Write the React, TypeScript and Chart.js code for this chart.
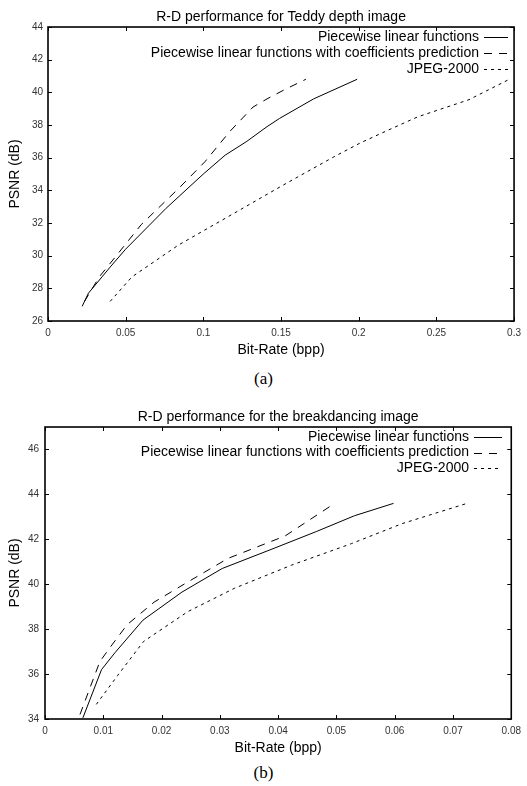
import React, { useEffect, useRef } from "react";
import { Chart, registerables } from "chart.js";

Chart.register(...registerables);

// ---------- Series labels ----------
const seriesLabels = [
  "Piecewise linear functions",
  "Piecewise linear functions with coefficients prediction",
  "JPEG-2000",
];

// ---------- (a) Teddy depth image ----------
const teddyTitle = "R-D performance for Teddy depth image";
const teddyXTicks = [0, 0.05, 0.1, 0.15, 0.2, 0.25, 0.3];
const teddyYTicks = [26, 28, 30, 32, 34, 36, 38, 40, 42, 44];
const teddyPwlRate = [0.022, 0.026, 0.040, 0.050, 0.076, 0.100, 0.114, 0.128, 0.141, 0.149, 0.171, 0.199];
const teddyPwlPsnr = [26.9, 27.7, 29.3, 30.4, 32.9, 35.0, 36.15, 37.0, 37.9, 38.4, 39.6, 40.8];
const teddyPredRate = [0.0235, 0.026, 0.033, 0.044, 0.060, 0.085, 0.101, 0.117, 0.123, 0.132, 0.141, 0.153, 0.166];
const teddyPredPsnr = [27.2, 27.6, 28.7, 30.0, 31.9, 34.2, 35.75, 37.6, 38.2, 39.1, 39.6, 40.2, 40.8];
const teddyJpegRate = [0.040, 0.054, 0.084, 0.118, 0.151, 0.184, 0.201, 0.217, 0.238, 0.271, 0.297];
const teddyJpegPsnr = [27.2, 28.7, 30.65, 32.5, 34.3, 36.05, 36.9, 37.6, 38.5, 39.55, 40.8];

// ---------- (b) Breakdancing image ----------
const breakTitle = "R-D performance for the breakdancing image";
const breakXTicks = [0, 0.01, 0.02, 0.03, 0.04, 0.05, 0.06, 0.07, 0.08];
const breakYTicks = [34, 36, 38, 40, 42, 44, 46];
const breakPwlRate = [0.0065, 0.0097, 0.0120, 0.0168, 0.0235, 0.0304, 0.0393, 0.0466, 0.0531, 0.0598];
const breakPwlPsnr = [34.05, 36.2, 36.95, 38.4, 39.65, 40.7, 41.6, 42.35, 43.05, 43.6];
const breakPredRate = [0.0060, 0.0094, 0.0112, 0.0141, 0.0187, 0.0245, 0.0314, 0.0412, 0.0497];
const breakPredPsnr = [34.2, 36.55, 37.2, 38.2, 39.2, 40.1, 41.15, 42.15, 43.6];
const breakJpegRate = [0.0088, 0.0125, 0.0169, 0.0245, 0.0325, 0.0423, 0.0526, 0.0613, 0.0724];
const breakJpegPsnr = [34.65, 35.95, 37.45, 38.78, 39.82, 40.85, 41.81, 42.7, 43.6];

const xAxisTitle = "Bit-Rate (bpp)";
const yAxisTitle = "PSNR (dB)";

const dashes: number[][] = [[], [8, 7], [3, 4]];
const SANS = "'Liberation Sans', Arial, Helvetica, sans-serif";

const fmt = (v: number) => String(parseFloat(Number(v).toFixed(4)));

const gnuplotPlugin = {
  id: "gnuFrame",
  afterDatasetsDraw(chart: any, _args: any, opts: any) {
    const { ctx, chartArea: a, scales } = chart;
    ctx.save();
    // inward ticks on all four sides
    ctx.strokeStyle = "#000";
    ctx.lineWidth = 1;
    const L = 4;
    ctx.beginPath();
    scales.x.ticks.forEach((t: any) => {
      const px = Math.round(scales.x.getPixelForValue(t.value)) + 0.5;
      ctx.moveTo(px, a.bottom);
      ctx.lineTo(px, a.bottom - L);
      ctx.moveTo(px, a.top);
      ctx.lineTo(px, a.top + L);
    });
    scales.y.ticks.forEach((t: any) => {
      const py = Math.round(scales.y.getPixelForValue(t.value)) + 0.5;
      ctx.moveTo(a.left, py);
      ctx.lineTo(a.left + L, py);
      ctx.moveTo(a.right, py);
      ctx.lineTo(a.right - L, py);
    });
    ctx.stroke();
    // frame
    ctx.lineWidth = 1.6;
    ctx.strokeRect(a.left, a.top, a.right - a.left, a.bottom - a.top);

    // title
    ctx.fillStyle = "#000";
    ctx.font = `14px ${SANS}`;
    ctx.textAlign = "center";
    ctx.textBaseline = "middle";
    ctx.fillText(opts.title, (a.left + a.right) / 2, opts.titleY);

    // legend (gnuplot style: text right-aligned, sample to the right)
    ctx.textAlign = "right";
    chart.data.datasets.forEach((ds: any, i: number) => {
      const y = opts.rows[i];
      ctx.fillStyle = "#000";
      ctx.fillText(ds.label, opts.textRight, y);
      ctx.beginPath();
      ctx.setLineDash(ds.borderDash || []);
      ctx.lineWidth = 1;
      ctx.strokeStyle = "#000";
      ctx.moveTo(opts.sampleStart, Math.round(y) + 0.5);
      ctx.lineTo(opts.sampleEnd, Math.round(y) + 0.5);
      ctx.stroke();
    });
    ctx.setLineDash([]);
    ctx.restore();
  },
};

type Panel = {
  title: string;
  rates: number[][];
  psnrs: number[][];
  xTicks: number[];
  yTicks: number[];
  xMax: number;
  yMin: number;
  yMax: number;
  width: number;
  height: number;
  area: { left: number; top: number; right: number; bottom: number };
  titleY: number;
  legend: { textRight: number; sampleStart: number; sampleEnd: number; rows: number[] };
  yTickPad: number;
  xTickPad: number;
  xTitlePad: number;
  yTitlePad: number;
};

function RDChart({ p }: { p: Panel }) {
  const ref = useRef<HTMLCanvasElement | null>(null);
  useEffect(() => {
    if (!ref.current) return;
    const datasets = seriesLabels.map((label, i) => ({
      label,
      data: p.rates[i].map((x, j) => ({ x, y: p.psnrs[i][j] })),
      borderColor: "#000",
      backgroundColor: "#000",
      borderWidth: 1,
      borderDash: dashes[i],
      pointRadius: 0,
      tension: 0,
      fill: false,
    }));
    const chart = new Chart(ref.current, {
      type: "line",
      data: { datasets },
      plugins: [gnuplotPlugin],
      options: {
        animation: false,
        responsive: false,
        maintainAspectRatio: false,
        parsing: true,
        layout: {
          padding: { left: 0, top: p.area.top, right: p.width - p.area.right, bottom: 0 },
        },
        plugins: {
          legend: { display: false },
          title: { display: false },
          tooltip: { enabled: false },
          gnuFrame: { title: p.title, titleY: p.titleY, ...p.legend },
        } as any,
        scales: {
          x: {
            type: "linear",
            min: 0,
            max: p.xMax,
            grid: { display: false, drawTicks: false },
            border: { display: false },
            afterBuildTicks: (s: any) => {
              s.ticks = p.xTicks.map((v) => ({ value: v }));
            },
            afterFit: (s: any) => {
              s.height = p.height - p.area.bottom;
            },
            ticks: {
              autoSkip: false,
              maxRotation: 0,
              padding: p.xTickPad,
              color: "#333",
              font: { family: SANS, size: 10 },
              callback: (v: any) => fmt(v),
            },
            title: {
              display: true,
              text: xAxisTitle,
              color: "#000",
              font: { family: SANS, size: 14 },
              padding: { top: 0, bottom: p.xTitlePad },
            },
          },
          y: {
            type: "linear",
            min: p.yMin,
            max: p.yMax,
            grid: { display: false, drawTicks: false },
            border: { display: false },
            afterBuildTicks: (s: any) => {
              s.ticks = p.yTicks.map((v) => ({ value: v }));
            },
            afterFit: (s: any) => {
              s.width = p.area.left;
            },
            ticks: {
              autoSkip: false,
              padding: p.yTickPad,
              color: "#333",
              font: { family: SANS, size: 10 },
              callback: (v: any) => fmt(v),
            },
            title: {
              display: true,
              text: yAxisTitle,
              color: "#000",
              font: { family: SANS, size: 14 },
              padding: { top: p.yTitlePad, bottom: 0 },
            },
          },
        },
      } as any,
    });
    return () => chart.destroy();
  }, [p]);
  return (
    <canvas
      ref={ref}
      width={p.width}
      height={p.height}
      style={{ display: "block", width: p.width, height: p.height }}
    />
  );
}

const panelA: Panel = {
  title: teddyTitle,
  rates: [teddyPwlRate, teddyPredRate, teddyJpegRate],
  psnrs: [teddyPwlPsnr, teddyPredPsnr, teddyJpegPsnr],
  xTicks: teddyXTicks,
  yTicks: teddyYTicks,
  xMax: 0.3,
  yMin: 26,
  yMax: 44,
  width: 527,
  height: 362,
  area: { left: 48, top: 27, right: 518, bottom: 321 },
  titleY: 17.5,
  legend: { textRight: 479, sampleStart: 484, sampleEnd: 508, rows: [37, 53, 69] },
  yTickPad: 5,
  xTickPad: 6,
  xTitlePad: 3.6,
  yTitlePad: 7.1,
};

const panelB: Panel = {
  title: breakTitle,
  rates: [breakPwlRate, breakPredRate, breakJpegRate],
  psnrs: [breakPwlPsnr, breakPredPsnr, breakJpegPsnr],
  xTicks: breakXTicks,
  yTicks: breakYTicks,
  xMax: 0.08,
  yMin: 34,
  yMax: 47,
  width: 527,
  height: 365,
  area: { left: 45, top: 32, right: 513, bottom: 324 },
  titleY: 22,
  legend: { textRight: 469, sampleStart: 474, sampleEnd: 502, rows: [42, 57.5, 73] },
  yTickPad: 6,
  xTickPad: 6,
  xTitlePad: 3.6,
  yTitlePad: 7.1,
};

const capStyle: React.CSSProperties = {
  position: "absolute",
  left: 0,
  width: 527,
  height: 20,
  lineHeight: "20px",
  textAlign: "center",
  fontFamily: "'Liberation Serif', 'Times New Roman', serif",
  fontSize: 17,
  color: "#000",
};

export default function App() {
  return (
    <div
      style={{
        position: "absolute",
        left: 0,
        top: 0,
        width: 527,
        height: 786,
        background: "#fff",
        overflow: "hidden",
      }}
    >
      <div style={{ position: "absolute", left: 0, top: 0 }}>
        <RDChart p={panelA} />
      </div>
      <div style={{ ...capStyle, top: 369 }}>(a)</div>
      <div style={{ position: "absolute", left: 0, top: 395 }}>
        <RDChart p={panelB} />
      </div>
      <div style={{ ...capStyle, top: 763 }}>(b)</div>
    </div>
  );
}
